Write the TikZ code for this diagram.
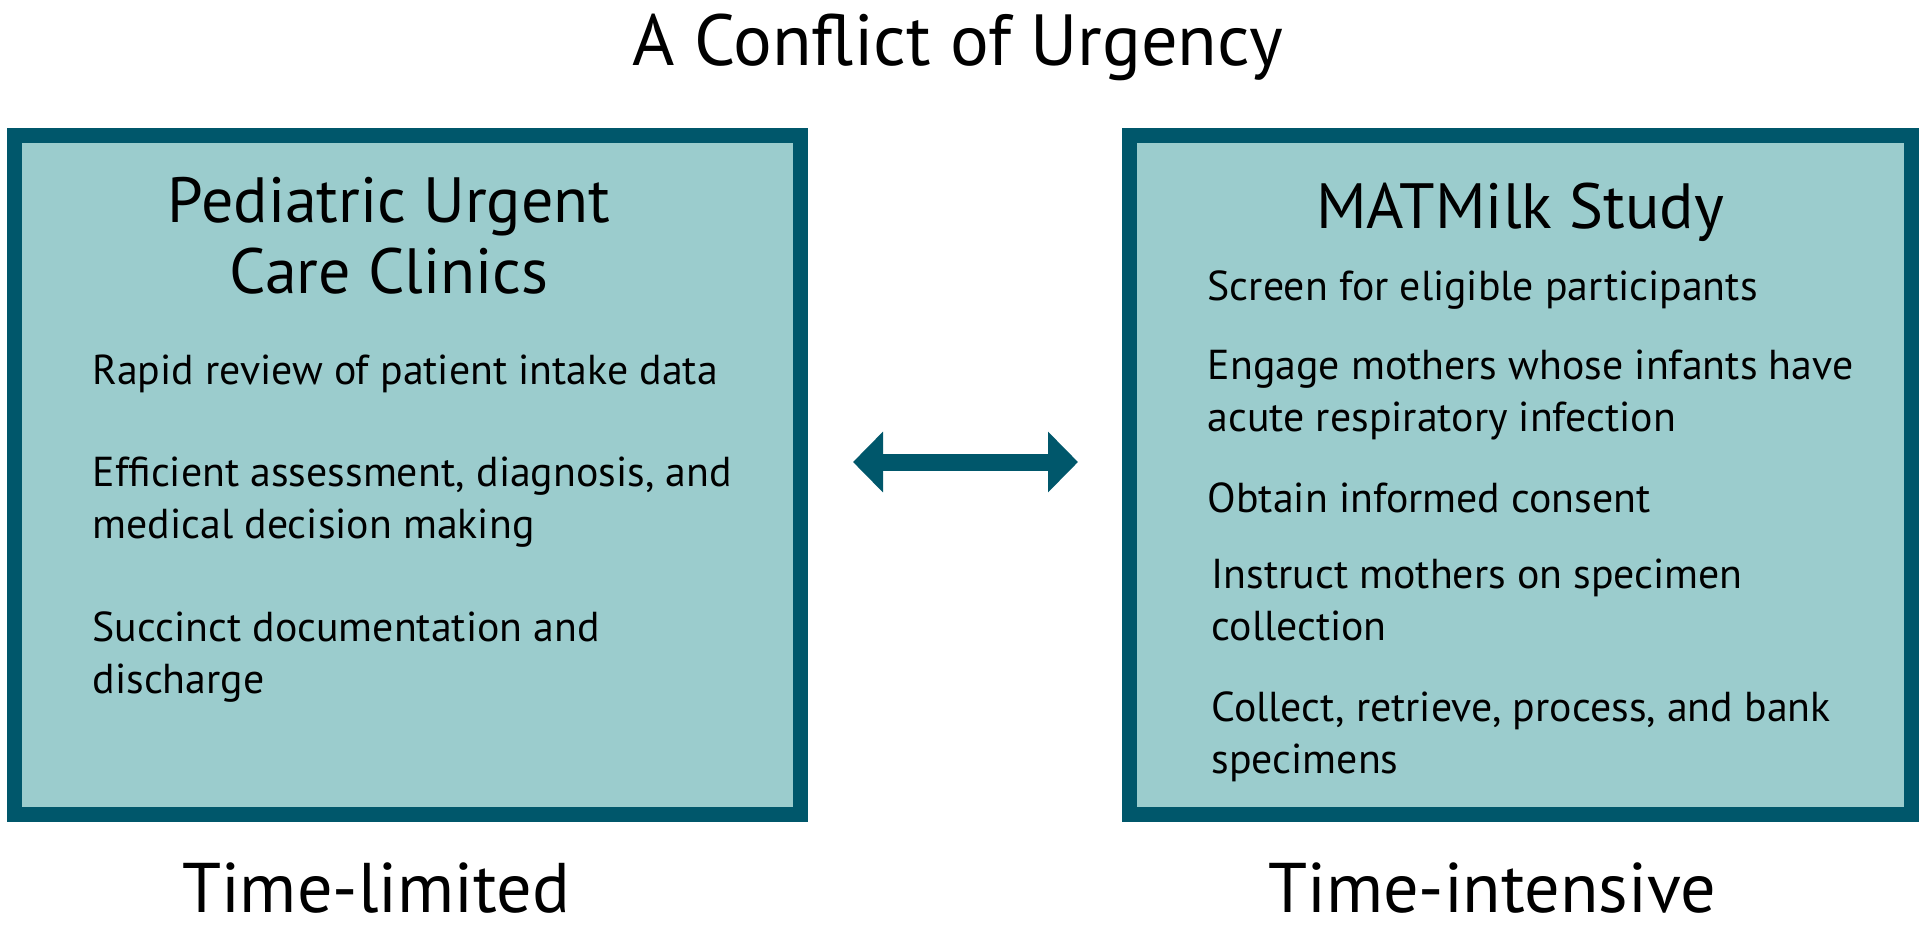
\documentclass[tikz,border=0pt]{standalone}
\usepackage{fontspec}
\setmainfont{PT Sans}
\usetikzlibrary{arrows.meta,positioning}
\definecolor{deepteal}{RGB}{0,87,107}
\definecolor{paleteal}{RGB}{155,204,205}
\tikzset{
  panel/.style={draw=deepteal, line width=1.5mm, fill=paleteal,
                minimum height=6.79cm, inner sep=0pt},
  head/.style={anchor=base, align=center, inner sep=0pt,
               font=\fontsize{18.2}{20.2}\selectfont},
  task/.style={anchor=base west, align=left, inner sep=0pt,
               font=\fontsize{11.9}{14.8}\selectfont},
  pace/.style={anchor=base, inner sep=0pt, font=\fontsize{20}{24}\selectfont},
  clash/.style={{Triangle[length=3mm,width=5.9mm]}-{Triangle[length=3mm,width=5.9mm]},
                deepteal, line width=1.7mm, shorten <=4.5mm, shorten >=4.4mm},
}
\begin{document}
\begin{tikzpicture}
        \useasboundingbox (0,0) rectangle (19.31,-9.31);
        % ===================== title =====================
        \node[anchor=base, inner sep=0pt, font=\fontsize{20.6}{24}\selectfont]
          (title) at (9.58,-0.65) {A Conflict of Urgency};
        % ===================== two panels =====================
        \node[panel, minimum width=7.86cm] (clinic) at (4.075,-4.75) {};
        \node[panel, minimum width=7.82cm] (study)  at (15.205,-4.75) {};
        \draw[clash] ([yshift=1.3mm]clinic.east) -- ([yshift=1.3mm]study.west);
        % ===================== clinic side =====================
        % (multi-line nodes sit on the baseline of their last line)
        \node[head] (clinichead) at (3.89,-2.93) {Pediatric Urgent\\Care Clinics};
        \node[task] (review)  at (0.92,-3.84) {Rapid review of patient intake data};
        \node[task] (assess)  at (0.92,-5.38) {Efficient assessment, diagnosis, and\\medical decision making};
        \node[task] (release) at (0.92,-6.93) {Succinct documentation and\\discharge};
        % ===================== study side =====================
        \node[head] (studyhead) at (15.20,-2.28) {MATMilk Study};
        \node[task] (screen)  at (12.07,-3.00) {Screen for eligible participants};
        \node[task] (engage)  at (12.07,-4.31) {Engage mothers whose infants have\\acute respiratory infection};
        \node[task] (consent) at (12.07,-5.12) {Obtain informed consent};
        \node[task] (instruct) at (12.11,-6.40) {Instruct mothers on specimen\\collection};
        \node[task] (collect) at (12.11,-7.73) {Collect, retrieve, process, and bank\\specimens};
        % ===================== pace labels =====================
        \node[pace] (limited)   at (3.76,-9.12)  {Time-limited};
        \node[pace] (intensive) at (14.92,-9.12) {Time-intensive};
\end{tikzpicture}
\end{document}
